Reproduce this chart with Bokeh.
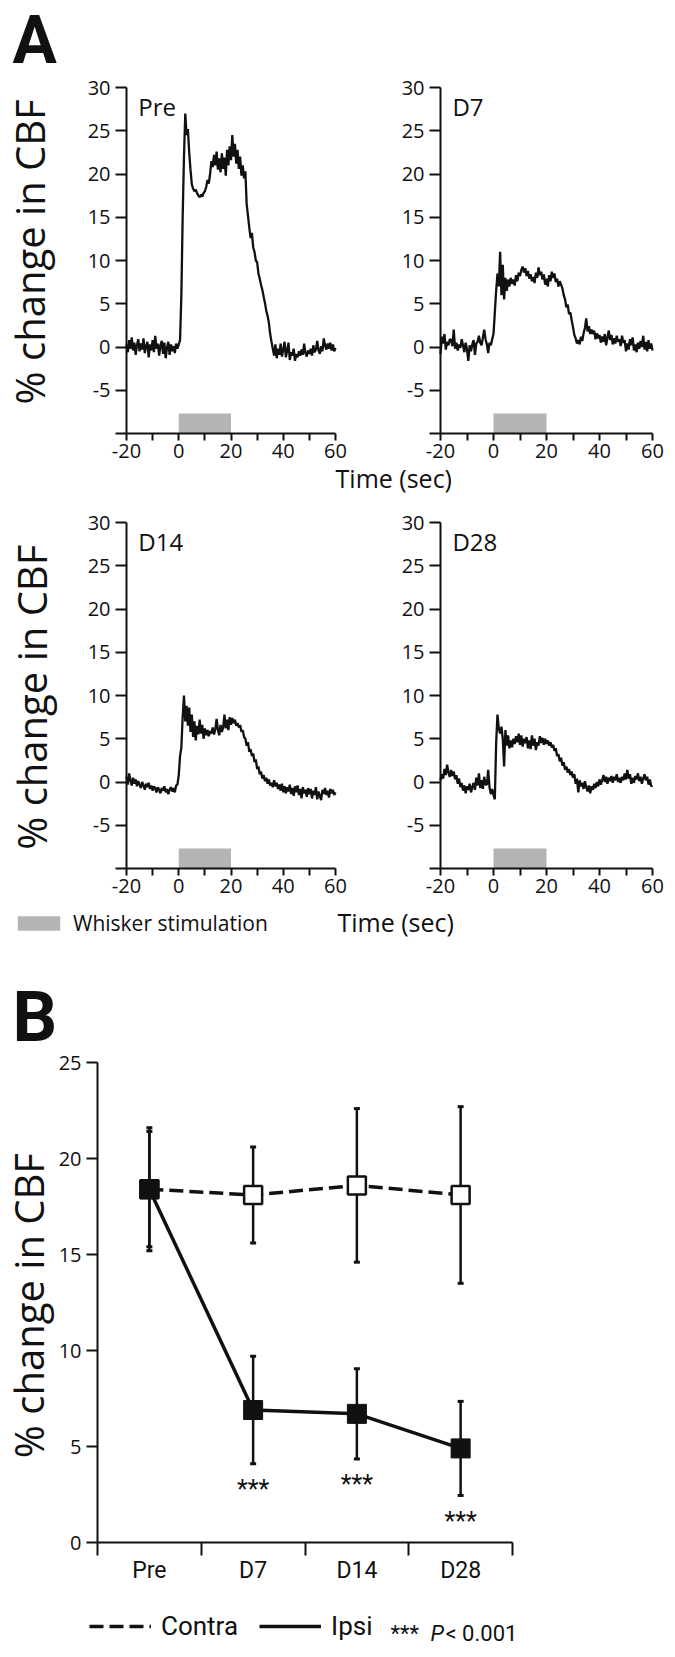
import numpy as np
from bokeh.plotting import figure
from bokeh.models import (Range1d, FixedTicker, Label, Legend, LegendItem, LinearAxis,
                          Whisker, TeeHead, ColumnDataSource)
from bokeh.embed import file_html
from bokeh.resources import INLINE
from bokeh.core.properties import value

# ---------------- data: panel A traces (sampled every 0.5 s from -20 s) ----------------
t_start = -20.0
t_step = 0.5
stim_on, stim_off = 0, 20
time_ticks = [-20, 0, 20, 40, 60]
time_minor = [-10, 10, 30, 50]
cbf_ticks = [-10, -5, 0, 5, 10, 15, 20, 25, 30]

pre_trace = [
    0.3, -0.6, 0.8, -0.2, 1.1, -0.4, 0.5, -0.9, 0.2, 0.9,
    -0.5, 0.4, -0.3, 1.0, -0.7, 0.1, 0.6, -1.2, 0.3, -0.4,
    0.8, -0.6, 1.3, -0.2, 0.4, -1.0, 0.2, 0.7, -0.8, 0.5,
    -1.3, -0.1, 0.6, -0.9, 0.3, -0.5, 0.1, -0.7, 0.4, -0.2,
    0.3, 0.8, 6.0, 15.0, 22.0, 27.0, 24.5, 25.2, 22.5, 20.5,
    18.8, 18.3, 18.0, 18.2, 17.8, 17.5, 17.3, 17.6, 17.4, 17.8,
    18.0, 18.5, 19.3, 18.9, 20.0, 21.5, 20.8, 22.2, 21.0, 22.6,
    20.5, 21.8, 20.2, 22.4, 20.6, 21.9, 19.8, 22.8, 21.0, 23.2,
    21.6, 24.5, 22.0, 23.5, 21.2, 22.8, 20.6, 22.0, 19.8, 21.0,
    19.5, 20.3, 16.5, 15.2, 13.8, 12.6, 13.2, 11.5, 11.0, 10.0,
    9.8, 8.5, 7.9, 7.2, 6.6, 5.8, 5.1, 4.2, 3.6, 2.8,
    1.5, 0.6, -0.2, -1.0, 0.3, -1.3, -0.2, -0.9, 0.4, -1.1,
    -0.3, 0.6, -1.2, -0.4, 0.5, -1.5, -0.6, -1.0, -0.2, -1.6,
    -0.8, -1.2, -0.5, -1.0, -0.3, -0.9, 0.4, -0.7, -1.1, -0.4,
    -0.8, -0.2, -1.0, 0.2, -0.6, -0.3, 0.7, -0.4, -0.8, 0.1,
    -0.5, 1.0, 0.2, -0.3, 0.4, -0.2, 0.5, -0.4, 0.3, -0.5,
    -0.1,
]

d7_trace = [
    -0.8, 1.2, 0.4, 1.5, -0.3, 0.6, 0.2, 0.9, 0.8, 0.1,
    2.0, -0.2, 0.5, -0.4, 0.3, -0.1, 0.9, 0.2, -0.6, 0.5,
    -0.3, -1.6, 0.2, -0.5, 0.3, 0.8, -0.9, 0.4, 0.6, 1.3,
    0.5, 0.2, 1.1, 2.0, 0.9, 0.3, -0.7, 0.5, 0.2, 0.9,
    1.5, 4.0, 6.5, 8.5, 7.0, 11.0, 6.0, 9.5, 5.5, 8.0,
    6.5, 7.8, 7.0, 8.0, 7.3, 7.8, 7.1, 8.3, 7.6, 8.6,
    8.2, 8.9, 9.3, 8.6, 9.1, 8.2, 8.8, 7.9, 8.4, 7.6,
    8.1, 7.4, 8.6, 8.0, 9.2, 8.3, 8.7, 7.8, 8.4, 7.2,
    7.9, 7.0, 8.3, 7.6, 8.7, 8.0, 8.5, 7.5, 7.9, 7.0,
    7.6, 7.2, 6.8, 6.0, 5.5, 4.6, 4.9, 3.8, 4.0, 3.1,
    2.3, 1.4, 1.0, 0.4, 0.8, 0.3, 1.2, 0.7, 1.6, 2.2,
    3.3, 1.8, 2.4, 1.5, 2.0, 1.5, 1.9, 0.9, 1.6, 1.0,
    1.4, 0.5, 1.2, 0.6, 1.5, 0.2, 1.1, 1.9, 0.8, 1.4,
    0.3, 1.0, 0.4, 1.3, 0.6, 0.9, 0.1, 1.3, 0.5, 0.8,
    -0.5, 0.4, -0.3, 0.9, 0.2, 1.1, -0.4, 0.3, -0.6, 0.5,
    -0.2, 0.7, 0.0, 1.3, -0.3, 0.6, -0.5, 0.8, -0.2, 0.4,
    -0.4,
]

d14_trace = [
    0.6, -0.3, 1.0, 0.2, -0.4, 0.5, -0.2, 0.3, -0.5, 0.1,
    -0.3, -0.7, 0.0, -0.4, -0.9, -0.2, -0.6, -0.1, -0.8, -0.4,
    -1.0, -0.5, -0.7, -1.2, -0.6, -0.9, -1.3, -0.7, -1.0, -0.5,
    -1.2, -0.8, -1.4, -0.9, -0.6, -1.1, -0.7, -1.2, -0.4, -0.3,
    0.8, 3.0, 4.0, 7.5, 10.0, 7.0, 8.8, 6.5, 8.6, 5.8,
    7.8, 5.2, 7.0, 4.8, 6.5, 5.5, 7.2, 5.6, 6.6, 5.0,
    6.2, 5.4, 6.0, 5.3, 5.9, 5.6, 6.3, 5.5, 6.1, 7.3,
    6.0, 5.4, 6.6, 5.8, 6.3, 7.8, 6.2, 7.2, 6.0, 7.5,
    6.6, 7.4, 6.8, 7.2, 6.5, 6.8, 6.3, 6.6, 5.8, 6.0,
    5.2, 5.0, 4.2, 4.6, 3.5, 3.8, 3.0, 3.3, 2.3, 2.6,
    1.5, 1.8, 0.9, 1.2, 0.4, 0.8, 0.1, 0.5, -0.2, 0.3,
    -0.4, -0.1, -0.6, 0.2, -0.5, -0.1, -0.8, -0.3, -1.0, -0.2,
    -1.2, -0.5, -1.3, -0.6, -1.1, -0.3, -1.4, -0.7, -1.6, -0.5,
    -1.2, -0.4, -1.5, -0.8, -1.9, -0.6, -1.3, -0.9, -1.7, -0.7,
    -1.4, -0.8, -1.9, -1.0, -1.5, -0.6, -2.0, -1.1, -1.6, -2.1,
    -0.9, -1.4, -0.7, -1.5, -1.0, -1.8, -0.8, -1.3, -0.9, -1.5,
    -1.2,
]

d28_trace = [
    0.2, 0.9, 0.4, 1.5, 0.8, 2.0, 1.1, 0.6, 1.4, 0.7,
    1.2, 0.3, 0.8, -0.2, 0.4, -0.6, -0.1, -1.0, -0.4, -1.3,
    -0.5, -0.9, -0.2, -1.2, -0.6, -0.1, -0.9, 0.5, -0.4, 1.0,
    -0.7, 0.2, -0.8, 0.6, -0.3, -0.3, 1.4, -0.6, -1.4, -0.8,
    -1.5, -2.0, 4.5, 7.8, 6.2, 5.6, 6.4, 5.0, 1.8, 6.0,
    4.2, 5.4, 3.9, 4.8, 4.0, 5.0, 4.4, 5.3, 4.6, 5.6,
    4.3, 5.4, 4.1, 5.0, 4.5, 5.2, 3.9, 4.8, 3.8, 5.4,
    4.2, 5.0, 3.7, 4.6, 4.2, 5.3, 4.5, 5.1, 4.3, 5.0,
    4.4, 4.8, 4.2, 4.6, 4.0, 4.3, 3.6, 3.9, 3.0, 3.2,
    2.4, 2.8, 1.9, 2.3, 1.4, 1.8, 1.1, 1.5, 0.8, 1.2,
    0.5, 0.9, -0.2, 0.4, -1.2, 0.2, -0.5, -0.1, -0.8, 0.1,
    -0.6, -1.1, -0.4, -1.3, -0.5, -0.9, -0.2, -0.7, 0.0, -0.5,
    0.3, -0.3, 0.2, 0.8, 0.0, 0.6, -0.2, 0.5, 0.1, 0.7,
    -0.1, 0.6, 0.2, 0.9, 0.0, 0.5, -0.1, 0.6, 0.2, 1.0,
    0.3, 1.4, 0.4, 0.9, -0.2, 0.5, -0.1, 0.7, 0.3, 1.0,
    0.1, 0.6, -0.2, 0.4, 0.9, 0.2, 0.6, -0.3, 0.3, -0.5,
    -0.4,
]

# ---------------- data: panel B ----------------
groups = ["Pre", "D7", "D14", "D28"]
contra_mean = [18.4, 18.1, 18.6, 18.1]
contra_sem = [3.2, 2.5, 4.0, 4.6]
ipsi_mean = [18.4, 6.9, 6.7, 4.9]
ipsi_sem = [3.0, 2.8, 2.35, 2.45]
ipsi_sig = ["", "***", "***", "***"]
b_ticks = [0, 5, 10, 15, 20, 25]

# ---------------- styling / layout ----------------
SANS = "Open Sans"
COND = "Roboto"
BLACK = "#111111"
STIM_GRAY = "#b4b4b4"
W, H = 667, 1655   # one canvas for the whole page


def lin_range(v0, p0, v1, p1, size):
    """Range so that value v0 sits at canvas pixel p0 and v1 at p1 (pixels from start)."""
    k = (v1 - v0) / (p1 - p0)
    return Range1d(v0 - p0 * k, v0 + (size - p0) * k)


def y_range_px(v_top, px_top, v_bot, px_bot):
    """y range from pixel rows measured from the top of the page."""
    return lin_range(v_top, H - px_top, v_bot, H - px_bot, H)


p = figure(width=W, height=H, title=None,
           x_range=lin_range(-20, 126, 60, 335, W),          # left trace panels
           y_range=y_range_px(30, 87, -10, 433),             # top trace row
           x_axis_location=None, y_axis_location=None,
           output_backend="svg", toolbar_location=None, min_border=0)
p.extra_x_ranges = {"R": lin_range(-20, 440, 60, 652, W),
                    "B": lin_range(0, 97, len(groups), 512, W)}
p.extra_y_ranges = {"row2": y_range_px(30, 522, -10, 868),
                    "B": y_range_px(25, 1062, 0, 1542)}
p.outline_line_color = None
for g in p.grid:
    g.visible = False
p.background_fill_color = "white"
p.border_fill_color = "white"


def style_axis(ax, font, size):
    ax.axis_line_width = 2
    ax.axis_line_color = BLACK
    ax.major_tick_line_width = 2
    ax.major_tick_line_color = BLACK
    ax.minor_tick_line_width = 2
    ax.minor_tick_line_color = BLACK
    ax.major_tick_in = 0
    ax.minor_tick_in = 0
    ax.major_label_text_font = font
    ax.major_label_text_font_size = size
    ax.major_label_text_color = BLACK


def text_label(txt, x, y, xr, yr, font, size, style="normal", angle=0.0, align="left"):
    p.add_layout(Label(x=x, y=y, text=txt, x_range_name=xr, y_range_name=yr,
                       angle=angle, text_align=align, text_baseline="middle",
                       text_font=font, text_font_style=style,
                       text_font_size=size, text_color=BLACK))


# ---------------- panel A ----------------
panels = [(pre_trace, groups[0], "default", "default"),
          (d7_trace, groups[1], "R", "default"),
          (d14_trace, groups[2], "default", "row2"),
          (d28_trace, groups[3], "R", "row2")]
stim_renderers = []
for vals, name, xr, yr in panels:
    t = [t_start + t_step * i for i in range(len(vals))]
    stim_renderers.append(p.quad(left=[stim_on], right=[stim_off], bottom=[-10], top=[-7.7],
                                 fill_color=STIM_GRAY, line_color=None,
                                 x_range_name=xr, y_range_name=yr))
    p.line(t, vals, line_color=BLACK, line_width=2.3, x_range_name=xr, y_range_name=yr)
    xa = LinearAxis(x_range_name=xr, y_range_name=yr, fixed_location=-10, bounds=(-20, 60),
                    ticker=FixedTicker(ticks=time_ticks, minor_ticks=time_minor))
    ya = LinearAxis(x_range_name=xr, y_range_name=yr, fixed_location=-20, bounds=(-10, 30),
                    ticker=FixedTicker(ticks=cbf_ticks))
    style_axis(xa, SANS, "20px")
    style_axis(ya, SANS, "20px")
    xa.major_label_overrides = {v: str(v) for v in time_ticks}
    ya.major_label_overrides = {v: ("" if v == -10 else str(v)) for v in cbf_ticks}
    xa.major_tick_out = 7
    xa.minor_tick_out = 7
    xa.major_label_standoff = 3
    ya.major_tick_out = 11
    ya.minor_tick_line_color = None
    ya.major_label_standoff = 5
    p.add_layout(xa, "below")
    p.add_layout(ya, "left")
    text_label(name, -15.5, 27.8, xr, yr, SANS, "24px")

text_label("% change in CBF", -57.1, 11.0, "default", "default", SANS, "40px",
           angle=np.pi / 2, align="center")
text_label("% change in CBF", -56.4, 9.8, "default", "row2", SANS, "40px",
           angle=np.pi / 2, align="center")
text_label("Time (sec)", -59.6, -15.14, "R", "default", SANS, "25px")
text_label("Time (sec)", -58.9, -16.13, "R", "row2", SANS, "25px")
text_label("A", -63.6, 35.43, "default", "default", COND, "66px", style="bold")

stim_leg = Legend(items=[LegendItem(label="Whisker stimulation", renderers=[stim_renderers[2]])],
                  location=(12, H - 937), glyph_width=53, glyph_height=18,
                  label_standoff=8, padding=0, margin=0,
                  border_line_color=None, background_fill_alpha=0,
                  label_text_font=SANS, label_text_font_size="21px",
                  label_text_color=BLACK)
p.add_layout(stim_leg)

# ---------------- panel B ----------------
xs = [i + 0.5 for i in range(len(groups))]
contra_line = p.line(xs, contra_mean, line_color=BLACK, line_width=3.5, line_dash="14 6",
                     x_range_name="B", y_range_name="B")
ipsi_line = p.line(xs, ipsi_mean, line_color=BLACK, line_width=3.5,
                   x_range_name="B", y_range_name="B")

for means, sems in ((contra_mean, contra_sem), (ipsi_mean, ipsi_sem)):
    src = ColumnDataSource(dict(x=xs,
                                lower=[m - s for m, s in zip(means, sems)],
                                upper=[m + s for m, s in zip(means, sems)]))
    p.add_layout(Whisker(source=src, base="x", lower="lower", upper="upper",
                         x_range_name="B", y_range_name="B",
                         line_color=BLACK, line_width=2.5,
                         upper_head=TeeHead(size=6, line_width=3, line_color=BLACK),
                         lower_head=TeeHead(size=6, line_width=3, line_color=BLACK)))

p.scatter(xs, contra_mean, marker="square", size=18, fill_color="white",
          line_color=BLACK, line_width=2.5, x_range_name="B", y_range_name="B")
p.scatter(xs, ipsi_mean, marker="square", size=19, fill_color=BLACK,
          line_color=BLACK, line_width=1, x_range_name="B", y_range_name="B")

sig_x = [x for x, s in zip(xs, ipsi_sig) if s]
sig_y = [m - e for m, e, s in zip(ipsi_mean, ipsi_sem, ipsi_sig) if s]
sig_t = [s for s in ipsi_sig if s]
p.text(x=sig_x, y=sig_y, text=sig_t, text_align="center", text_baseline="middle",
       y_offset=26, text_font=value(COND), text_font_size="25px", text_color=BLACK,
       x_range_name="B", y_range_name="B")

bx = LinearAxis(x_range_name="B", y_range_name="B", fixed_location=0, bounds=(0, len(groups)),
                ticker=FixedTicker(ticks=xs, minor_ticks=list(range(len(groups) + 1))))
style_axis(bx, COND, "23px")
bx.major_label_overrides = {x: g for x, g in zip(xs, groups)}
bx.major_tick_line_color = None
bx.major_tick_out = 0
bx.minor_tick_out = 13
bx.major_label_standoff = 1
by = LinearAxis(x_range_name="B", y_range_name="B", fixed_location=0, bounds=(0, 25),
                ticker=FixedTicker(ticks=b_ticks))
style_axis(by, SANS, "20px")
by.major_tick_out = 11
by.minor_tick_line_color = None
by.major_label_standoff = 5
p.add_layout(bx, "below")
p.add_layout(by, "left")

text_label("% change in CBF", -0.665, 12.34, "B", "B", SANS, "40px",
           angle=np.pi / 2, align="center")
text_label("B", -0.82, 27.37, "B", "B", COND, "70px", style="bold")

b_leg = Legend(items=[LegendItem(label="Contra", renderers=[contra_line]),
                      LegendItem(label="Ipsi", renderers=[ipsi_line])],
               location=(89, H - 1641), orientation="horizontal",
               glyph_width=62, glyph_height=20, label_standoff=10, spacing=21,
               padding=0, margin=0, border_line_color=None, background_fill_alpha=0,
               label_text_font=COND, label_text_font_size="26px", label_text_color=BLACK)
p.add_layout(b_leg)
for xpos, txt, style in ((2.824, "***", "normal"), (3.21, "P", "italic"),
                         (3.354, "< 0.001", "normal")):
    text_label(txt, xpos, -4.74, "B", "B", COND, "22px", style=style)

open("out.html", "w").write(file_html(p, INLINE, title="CBF response"))
